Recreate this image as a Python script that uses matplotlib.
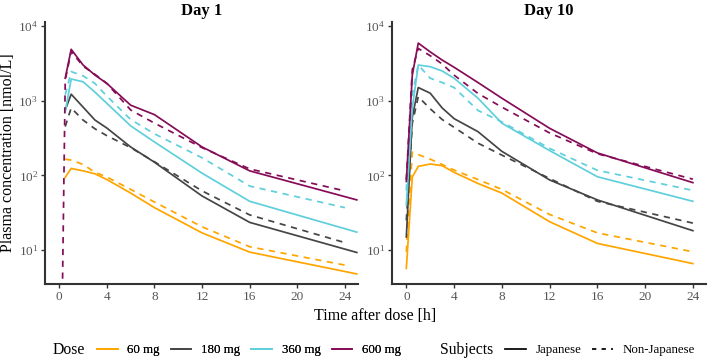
import numpy as np
import matplotlib
matplotlib.use("Agg")
import matplotlib.pyplot as plt
from matplotlib.lines import Line2D
from matplotlib.ticker import LogLocator, LogFormatterMathtext, NullLocator

plt.rcParams['font.family'] = ['Liberation Serif', 'DejaVu Serif']
plt.rcParams['mathtext.fontset'] = 'stix'

doses = ['60 mg', '180 mg', '360 mg', '600 mg']
colors = ['#FFA500', '#454545', '#5FCFDC', '#850C57']
subjects = ['Japanese', 'Non-Japanese']
panel_titles = ['Day 1', 'Day 10']

# Day 1 sampling times
t_d1_jp = [0.5, 1, 2, 3, 4, 6, 8, 12, 16, 25]
t_d1_nj = [0.25, 0.5, 1, 2, 3, 4, 6, 8, 12, 16, 24]
# Day 10 sampling times
t_d10 = [0, 0.5, 1, 2, 3, 4, 6, 8, 12, 16, 24]

# Day 1, Japanese (solid)
d1_jp_60 = [94, 124, 115, 105, 88, 58, 37, 17, 9.4, 4.8]
d1_jp_180 = [750, 1220, 820, 550, 430, 240, 150, 53, 23.5, 9.3]
d1_jp_360 = [710, 1950, 1790, 1300, 920, 460, 280, 107, 45, 17.4]
d1_jp_600 = [2000, 4870, 3000, 2200, 1700, 870, 650, 240, 115, 47]
# Day 1, Non-Japanese (dashed)
d1_nj_60 = [np.nan, 165, 160, 140, 110, 95, 65, 44, 20.5, 11.1, 6.3]
d1_nj_180 = [np.nan, 450, 800, 550, 420, 340, 235, 152, 62, 29.6, 12.6]
d1_nj_360 = [np.nan, 1200, 2450, 2150, 1700, 1150, 560, 360, 172, 72, 37]
d1_nj_600 = [2, 1900, 4540, 2900, 2250, 1700, 750, 500, 235, 122, 62]

# Day 10, Japanese (solid)
d10_jp_60 = [5.7, 95, 132, 142, 135, 110, 78, 58, 24, 12.3, 6.6]
d10_jp_180 = [15, 600, 1500, 1260, 800, 575, 385, 210, 87, 47, 18.2]
d10_jp_360 = [40, 800, 3000, 2850, 2500, 2000, 1080, 500, 215, 96, 45]
d10_jp_600 = [83, 2200, 5900, 4500, 3500, 2800, 1750, 1080, 427, 200, 80]
# Day 10, Non-Japanese (dashed)
d10_nj_60 = [9.5, 205, 190, 165, 140, 118, 88, 65, 30, 17, 9.5]
d10_nj_180 = [25, 500, 1130, 780, 560, 440, 270, 187, 91, 45, 23]
d10_nj_360 = [63, 1200, 3000, 2000, 1750, 1500, 740, 520, 230, 117, 63]
d10_nj_600 = [87, 2600, 5000, 4000, 3100, 2200, 1250, 820, 370, 195, 89]

panels = [
    (t_d1_jp, [d1_jp_60, d1_jp_180, d1_jp_360, d1_jp_600],
     t_d1_nj, [d1_nj_60, d1_nj_180, d1_nj_360, d1_nj_600]),
    (t_d10, [d10_jp_60, d10_jp_180, d10_jp_360, d10_jp_600],
     t_d10, [d10_nj_60, d10_nj_180, d10_nj_360, d10_nj_600]),
]

W, H = 708, 359
fig = plt.figure(figsize=(W / 100, H / 100), dpi=100)
fig.patch.set_facecolor('white')

dash = (0, (3.6, 3.2))
lw = 1.25
axes_px = [(45, 358), (392, 706)]
top_px, bot_px = 22, 284

for (x0, x1), title, (tj, jp, tn, nj) in zip(axes_px, panel_titles, panels):
    ax = fig.add_axes([x0 / W, 1 - bot_px / H, (x1 - x0) / W, (bot_px - top_px) / H])
    for c, yj, yn in zip(colors, jp, nj):
        ax.plot(tj, yj, color=c, lw=lw, solid_joinstyle='round')
        ax.plot(tn, yn, color=c, lw=lw, linestyle=dash)
    ax.set_yscale('log')
    ax.set_ylim(3.52, 11300)
    ax.set_xlim(-1.2, 25.1)
    ax.set_xticks([0, 4, 8, 12, 16, 20, 24])
    ax.yaxis.set_major_locator(LogLocator(base=10, numticks=10))
    ax.yaxis.set_major_formatter(LogFormatterMathtext())
    ax.yaxis.set_minor_locator(NullLocator())
    for s in ['top', 'right']:
        ax.spines[s].set_visible(False)
    for s in ['left', 'bottom']:
        ax.spines[s].set_color('#333333')
        ax.spines[s].set_linewidth(1.5)
    ax.tick_params(axis='both', colors='#333333', labelcolor='#555555',
                   labelsize=9.5, length=3, width=1.0, pad=2)
    ax.set_title(title, fontsize=12, fontweight='bold', pad=5)

fig.text(8 / W, 1 - 153 / H, 'Plasma concentration [nmol/L]', rotation=90,
         ha='center', va='center', fontsize=11.5)
fig.text(375.5 / W, 1 - 316 / H, 'Time after dose [h]', ha='center', va='center',
         fontsize=11.5)

# legend row
ly = 1 - 350 / H
fig.text(53 / W, ly, 'Dose', ha='left', va='center', fontsize=11.3)
dose_handles = [Line2D([], [], color=c, lw=lw) for c in colors]
leg1 = fig.legend(dose_handles, doses, loc='center left', bbox_to_anchor=(97 / W, ly),
                  ncol=4, frameon=False, fontsize=9.3, handlelength=1.6,
                  handletextpad=0.75, columnspacing=0.85, borderpad=0, borderaxespad=0)
fig.add_artist(leg1)
fig.text(440 / W, ly, 'Subjects', ha='left', va='center', fontsize=11.3)
subj_handles = [Line2D([], [], color='black', lw=lw),
                Line2D([], [], color='black', lw=lw, linestyle=(0, (2.5, 3.0)))]
fig.legend(subj_handles, subjects, loc='center left', bbox_to_anchor=(505 / W, ly),
           ncol=2, frameon=False, fontsize=9.3, handlelength=1.6,
           handletextpad=0.75, columnspacing=0.85, borderpad=0, borderaxespad=0)

fig.savefig('out.png', dpi=100, facecolor='white')
